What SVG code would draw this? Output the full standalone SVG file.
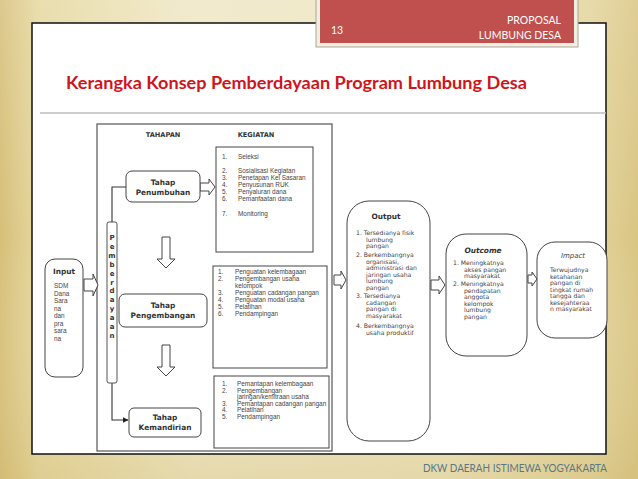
<svg xmlns="http://www.w3.org/2000/svg" width="638" height="479" viewBox="0 0 638 479">
<defs>
<linearGradient id="bgH" x1="0" y1="0" x2="1" y2="0">
<stop offset="0" stop-color="#d6bf78"/>
<stop offset="0.06" stop-color="#e6d8a0"/>
<stop offset="0.3" stop-color="#efe7c4"/>
<stop offset="0.7" stop-color="#eee5bf"/>
<stop offset="0.93" stop-color="#e3d49a"/>
<stop offset="1" stop-color="#d9c583"/>
</linearGradient>
<linearGradient id="bgV" x1="0" y1="0" x2="0" y2="1">
<stop offset="0" stop-color="#ffffff" stop-opacity="0.15"/>
<stop offset="0.5" stop-color="#ffffff" stop-opacity="0"/>
<stop offset="1" stop-color="#c9b066" stop-opacity="0.25"/>
</linearGradient>
<marker id="ah" viewBox="0 0 10 10" refX="9" refY="5" markerWidth="6" markerHeight="6" orient="auto" markerUnits="userSpaceOnUse">
<path d="M0,0 L10,5 L0,10 Z" fill="#222"/>
</marker>
<style>
.box{fill:#fff;stroke:#444;stroke-width:1}
.frame{fill:none;stroke:#555;stroke-width:1.2}
.barr{fill:#fff;stroke:#555;stroke-width:1}
.ln{fill:none;stroke:#333;stroke-width:1.1}
.hd{font-family:"DejaVu Sans",sans-serif;font-weight:bold;font-size:6.6px;fill:#333}
.stg{font-family:"DejaVu Sans",sans-serif;font-weight:bold;font-size:7.4px;fill:#333;text-anchor:middle}
.it{font-family:"Liberation Sans",Arial,sans-serif;font-size:6.4px;fill:#444}
.ot{font-family:"DejaVu Sans",sans-serif;font-size:6.1px;fill:#444}
.ttl{font-family:"DejaVu Sans",sans-serif;font-weight:bold;font-size:7.4px;fill:#333;text-anchor:middle}
.vl{font-family:"DejaVu Sans",sans-serif;font-weight:bold;font-size:7px;fill:#333;text-anchor:middle}
.hdr{font-family:"Lato","Liberation Sans",sans-serif;font-size:10.5px;fill:#fff}
</style>
</defs>

<!-- background -->
<rect x="0" y="0" width="638" height="479" fill="url(#bgH)"/>
<rect x="0" y="0" width="638" height="479" fill="url(#bgV)"/>

<!-- slide panel -->
<rect x="32" y="23" width="574" height="431" fill="#fff" stroke="#111" stroke-width="1.5"/>
<line x1="40" y1="113" x2="606" y2="113" stroke="#bdbdbd" stroke-width="1.5"/>

<!-- header -->
<g id="header">
<rect x="316" y="-2" width="262" height="49" fill="#f2eee2" stroke="#aaa593" stroke-width="1"/>
<rect x="320" y="-2" width="254" height="45" fill="#c0504d"/>
<text class="hdr" x="331" y="34">13</text>
<text class="hdr" x="561" y="24" text-anchor="end">PROPOSAL</text>
<text class="hdr" x="561" y="39" text-anchor="end">LUMBUNG DESA</text>
</g>

<text x="66" y="89" font-family="Lato,'DejaVu Sans',sans-serif" font-weight="bold" font-size="16.5" fill="#d0141c" textLength="461" lengthAdjust="spacingAndGlyphs">Kerangka Konsep Pemberdayaan Program Lumbung Desa</text>

<!-- big frame -->
<g id="frame">
<rect class="frame" x="97" y="124" width="235" height="327"/>
<text class="hd" x="163" y="137" text-anchor="middle">TAHAPAN</text>
<text class="hd" x="256" y="137" text-anchor="middle">KEGIATAN</text>
</g>

<!-- connectors -->
<g id="connectors">
<polyline class="ln" points="126,187 112,187 112,222"/>
<polyline class="ln" points="112,383 112,420 128,420" marker-end="url(#ah)"/>
<!-- Penumbuhan -> kegiatan 1 -->
<path class="box" d="M200,183 L209,183 L209,179 L215,187 L209,195 L209,191 L200,191 Z"/>
<!-- down arrows -->
<path class="box" d="M162,237 L170,237 L170,259 L175,259 L166,268 L157,259 L162,259 Z"/>
<path class="box" d="M162,345 L170,345 L170,367 L175,367 L166,376 L157,367 L162,367 Z"/>
<!-- input -> frame -->
<path class="box" d="M84,279 L93,279 L93,274 L98,285 L93,296 L93,291 L84,291 Z"/>
<!-- frame -> output -->
<path class="box" d="M334,275 L341,275 L341,271 L346,280 L341,289 L341,285 L334,285 Z"/>
<!-- output -> outcome -->
<path class="box" d="M431,280 L439,280 L439,276 L445,285 L439,294 L439,290 L431,290 Z"/>
<!-- outcome -> impact -->
<path class="box" d="M528,275 L532,275 L532,272 L537,279 L532,286 L532,283 L528,283 Z"/>
</g>

<!-- Pemberdayaan bar -->
<g id="pemberdayaan">
<rect class="barr" x="107" y="222" width="10" height="161" rx="2"/>
<text class="vl" x="112" y="240">P</text>
<text class="vl" x="112" y="248.5">e</text>
<text class="vl" x="112" y="257.5">m</text>
<text class="vl" x="112" y="267">b</text>
<text class="vl" x="112" y="276">e</text>
<text class="vl" x="112" y="284.5">r</text>
<text class="vl" x="112" y="293">d</text>
<text class="vl" x="112" y="302">a</text>
<text class="vl" x="112" y="311">y</text>
<text class="vl" x="112" y="320">a</text>
<text class="vl" x="112" y="329">a</text>
<text class="vl" x="112" y="338">n</text>
</g>

<!-- Input -->
<g id="input">
<rect class="box" x="45" y="259" width="38" height="118" rx="10"/>
<text class="stg" x="64" y="274" font-size="6.8">Input</text>
<g class="it" font-size="6.6">
<text x="54" y="288">SDM</text>
<text x="54" y="295.5">Dana</text>
<text x="54" y="303">Sara</text>
<text x="54" y="310.5">na</text>
<text x="54" y="318">dan</text>
<text x="54" y="325.5">pra</text>
<text x="54" y="333">sara</text>
<text x="54" y="340.5">na</text>
</g>
</g>

<!-- Tahap Penumbuhan -->
<g id="penumbuhan">
<rect class="box" x="126" y="171" width="74" height="31" rx="6"/>
<text class="stg" x="163" y="185">Tahap</text>
<text class="stg" x="163" y="195">Penumbuhan</text>
</g>

<!-- Tahap Pengembangan -->
<g id="pengembangan">
<rect class="box" x="119" y="294" width="88" height="33" rx="6"/>
<text class="stg" x="163" y="308">Tahap</text>
<text class="stg" x="163" y="318">Pengembangan</text>
</g>

<!-- Tahap Kemandirian -->
<g id="kemandirian">
<rect class="box" x="129" y="408" width="72" height="29" rx="5"/>
<text class="stg" x="165" y="420">Tahap</text>
<text class="stg" x="165" y="430">Kemandirian</text>
</g>

<!-- Kegiatan 1 -->
<g id="kegiatan1">
<rect class="box" x="216" y="147" width="97" height="105"/>
<g class="it">
<text x="222" y="159">1.</text><text x="238" y="159">Seleksi</text>
<text x="222" y="173">2.</text><text x="238" y="173">Sosialisasi Kegiatan</text>
<text x="222" y="180">3.</text><text x="238" y="180">Penetapan Kel Sasaran</text>
<text x="222" y="187">4.</text><text x="238" y="187">Penyusunan RUK</text>
<text x="222" y="194">5.</text><text x="238" y="194">Penyaluran dana</text>
<text x="222" y="201">6.</text><text x="238" y="201">Pemanfaatan dana</text>
<text x="222" y="216">7.</text><text x="238" y="216">Monitoring</text>
</g>
</g>

<!-- Kegiatan 2 -->
<g id="kegiatan2">
<rect class="box" x="213" y="266" width="114" height="102"/>
<g class="it">
<text x="218" y="274">1.</text><text x="235" y="274">Penguatan kelembagaan</text>
<text x="218" y="281">2.</text><text x="235" y="281">Pengembangan usaha</text>
<text x="235" y="288">kelompok</text>
<text x="218" y="295">3.</text><text x="235" y="295">Penguatan cadangan pangan</text>
<text x="218" y="302">4.</text><text x="235" y="302">Penguatan modal usaha</text>
<text x="218" y="309">5.</text><text x="235" y="309">Pelatihan</text>
<text x="218" y="316">6.</text><text x="235" y="316">Pendampingan</text>
</g>
</g>

<!-- Kegiatan 3 -->
<g id="kegiatan3">
<rect class="box" x="214" y="376" width="115" height="72"/>
<g class="it">
<text x="222" y="386">1.</text><text x="237" y="386">Pemantapan kelembagaan</text>
<text x="222" y="392.5">2.</text><text x="237" y="392.5">Pengembangan</text>
<text x="237" y="399">jaringan/kemitraan usaha</text>
<text x="222" y="405.5">3.</text><text x="237" y="405.5">Pemantapan cadangan pangan</text>
<text x="222" y="412">4.</text><text x="237" y="412">Pelatihan</text>
<text x="222" y="418.5">5.</text><text x="237" y="418.5">Pendampingan</text>
</g>
</g>

<!-- Output -->
<g id="output">
<rect class="box" x="347" y="201" width="83" height="240" rx="22"/>
<text class="ttl" x="386" y="219">Output</text>
<g class="ot">
<text x="356" y="235">1. Tersedianya fisik</text>
<text x="366" y="241.5">lumbung</text>
<text x="366" y="248">pangan</text>
<text x="356" y="257">2. Berkembangnya</text>
<text x="366" y="263.5">organisasi,</text>
<text x="366" y="270">administrasi dan</text>
<text x="366" y="276.5">jaringan usaha</text>
<text x="366" y="283">lumbung</text>
<text x="366" y="289.5">pangan</text>
<text x="356" y="298">3. Tersedianya</text>
<text x="366" y="304.5">cadangan</text>
<text x="366" y="311">pangan di</text>
<text x="366" y="317.5">masyarakat</text>
<text x="356" y="328">4. Berkembangnya</text>
<text x="366" y="334.5">usaha produktif</text>
</g>
</g>

<!-- Outcome -->
<g id="outcome">
<rect class="box" x="446" y="234" width="81" height="122" rx="20"/>
<text class="ttl" x="483" y="253" font-style="italic">Outcome</text>
<g class="ot">
<text x="453" y="265">1. Meningkatnya</text>
<text x="464" y="271.5">akses pangan</text>
<text x="464" y="278">masyarakat</text>
<text x="453" y="286">2. Meningkatnya</text>
<text x="464" y="292.5">pendapatan</text>
<text x="464" y="299">anggota</text>
<text x="464" y="305.5">kelompok</text>
<text x="464" y="312">lumbung</text>
<text x="464" y="318.5">pangan</text>
</g>
</g>

<!-- Impact -->
<g id="impact">
<rect class="box" x="537" y="242" width="70" height="96" rx="18"/>
<text x="573" y="258" font-family="'DejaVu Sans',sans-serif" font-style="italic" font-size="7" fill="#444" text-anchor="middle">Impact</text>
<g class="ot">
<text x="550" y="272">Terwujudnya</text>
<text x="550" y="278.5">ketahanan</text>
<text x="550" y="285">pangan di</text>
<text x="550" y="291.5">tingkat rumah</text>
<text x="550" y="298">tangga  dan</text>
<text x="550" y="304.5">kesejahteraa</text>
<text x="550" y="311">n masyarakat</text>
</g>
</g>

<text x="607" y="472" font-family="Lato,'Liberation Sans',sans-serif" font-size="11" fill="#5b7686" text-anchor="end" textLength="184" lengthAdjust="spacingAndGlyphs">DKW DAERAH ISTIMEWA YOGYAKARTA</text>
</svg>
